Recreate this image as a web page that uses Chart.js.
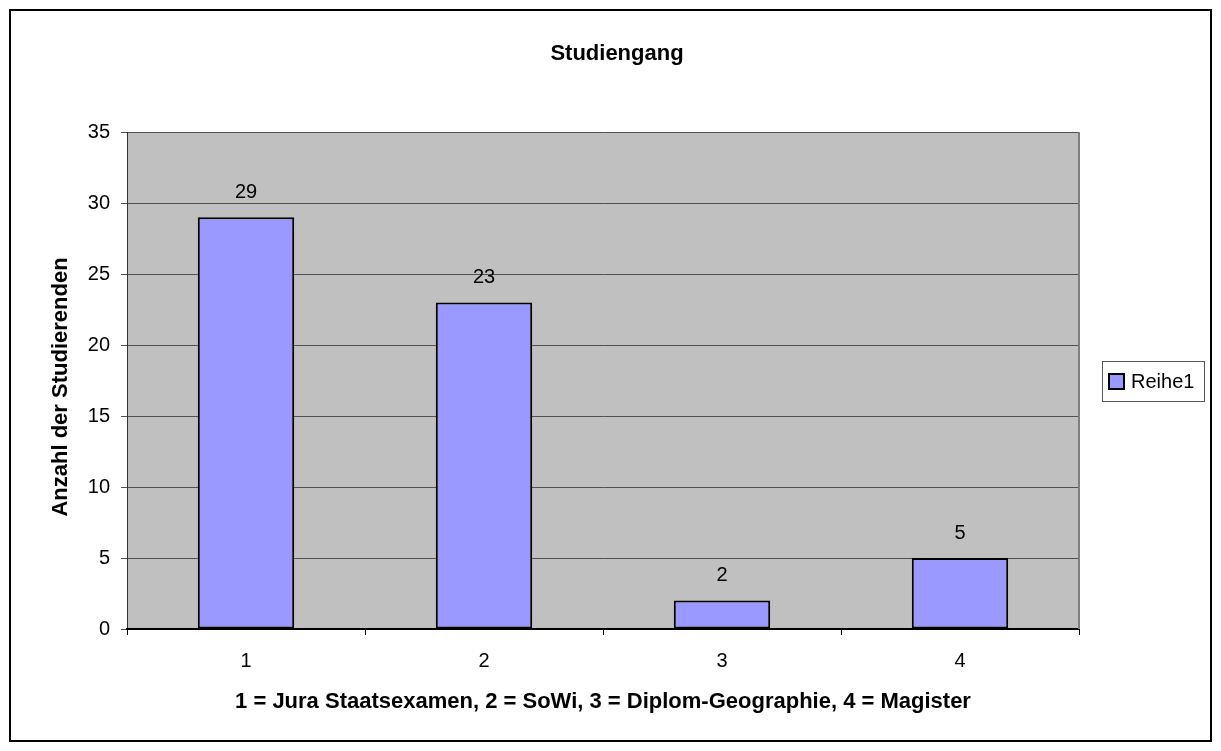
<!DOCTYPE html>
<html><head><meta charset="utf-8">
<script src="https://cdn.jsdelivr.net/npm/chart.js@4.4.1/dist/chart.umd.min.js"></script>
<style>html,body{margin:0;padding:0;background:#fff;} #wrap{width:1221px;height:751px;position:relative;}</style>
</head><body><div id="wrap"><canvas id="c" width="1221" height="751"></canvas></div>
<script>
const categories = ['1', '2', '3', '4'];
const seriesName = 'Reihe1';
const values = [29, 23, 2, 5];
const yTicks = [0, 5, 10, 15, 20, 25, 30, 35];
const chartTitle = 'Studiengang';
const xTitle = '1 = Jura Staatsexamen, 2 = SoWi, 3 = Diplom-Geographie, 4 = Magister';
const yTitle = 'Anzahl der Studierenden';

const FONT = "'Liberation Sans', Arial, sans-serif";
Chart.defaults.font.family = FONT;
Chart.defaults.color = '#000';

const decor = {
  id: 'decor',
  beforeDraw(chart) {
    const ctx = chart.ctx, a = chart.chartArea;
    ctx.save();
    ctx.fillStyle = '#fff';
    ctx.fillRect(0, 0, chart.width, chart.height);
    ctx.fillStyle = '#C0C0C0';
    ctx.fillRect(a.left, a.top, a.right - a.left, a.bottom - a.top);
    ctx.restore();
  },
  afterDatasetsDraw(chart) {
    const ctx = chart.ctx;
    ctx.save();
    ctx.font = '20px ' + FONT;
    ctx.fillStyle = '#000';
    ctx.textAlign = 'center';
    ctx.textBaseline = 'middle';
    chart.getDatasetMeta(0).data.forEach((bar, i) => {
      ctx.fillText(String(chart.data.datasets[0].data[i]), bar.x, bar.y - 25);
    });
    ctx.restore();
  },
  afterDraw(chart) {
    const ctx = chart.ctx, a = chart.chartArea;
    ctx.save();
    // plot area right border
    ctx.strokeStyle = '#808080';
    ctx.lineWidth = 2;
    ctx.beginPath();
    ctx.moveTo(a.right, a.top);
    ctx.lineTo(a.right, a.bottom);
    ctx.stroke();
    // outer border
    ctx.strokeStyle = '#000';
    ctx.lineWidth = 2;
    ctx.strokeRect(10, 10, 1201, 731);
    // chart title
    ctx.fillStyle = '#000';
    ctx.font = 'bold 22px ' + FONT;
    ctx.textAlign = 'center';
    ctx.textBaseline = 'middle';
    ctx.fillText(chartTitle, 617, 54);
    // y axis title
    ctx.save();
    ctx.translate(61, 387);
    ctx.rotate(-Math.PI / 2);
    ctx.fillText(yTitle, 0, 0);
    ctx.restore();
    // legend
    ctx.fillStyle = '#fff';
    ctx.fillRect(1102, 361, 102, 40);
    ctx.strokeStyle = '#555';
    ctx.lineWidth = 1;
    ctx.strokeRect(1102.5, 361.5, 102, 40);
    const ds = chart.data.datasets[0];
    ctx.fillStyle = ds.backgroundColor;
    ctx.fillRect(1109, 374, 15, 15);
    ctx.strokeStyle = '#000';
    ctx.lineWidth = 2;
    ctx.strokeRect(1109, 374, 15, 15);
    ctx.fillStyle = '#000';
    ctx.font = '20px ' + FONT;
    ctx.textAlign = 'left';
    ctx.textBaseline = 'middle';
    ctx.fillText(ds.label, 1131, 382);
    ctx.restore();
  }
};

new Chart(document.getElementById('c'), {
  type: 'bar',
  data: {
    labels: categories,
    datasets: [{
      label: seriesName,
      data: values,
      backgroundColor: '#9999FF',
      borderColor: '#000',
      borderWidth: 2,
      borderSkipped: false,
      categoryPercentage: 1,
      barPercentage: 0.405
    }]
  },
  options: {
    responsive: false,
    animation: false,
    devicePixelRatio: 1,
    layout: { padding: { left: 0, right: 142, top: 132, bottom: 22 } },
    plugins: {
      legend: { display: false },
      title: { display: false },
      tooltip: { enabled: false }
    },
    scales: {
      y: {
        min: 0, max: 35,
        afterBuildTicks(s) { s.ticks = yTicks.map(v => ({ value: v })); },
        ticks: { font: { size: 20 }, color: '#000', padding: 11 },
        grid: { color: '#505050', lineWidth: 1, tickLength: 6, drawTicks: true },
        border: { color: '#333', width: 1 },
        title: { display: false },
        afterFit(s) { s.width = 127; }
      },
      x: {
        grid: { offset: true, drawOnChartArea: false, drawTicks: true, tickLength: 6, color: '#000' },
        border: { color: '#000', width: 2 },
        ticks: { font: { size: 20 }, color: '#000', padding: 14 },
        title: {
          display: true, text: xTitle, color: '#000',
          font: { size: 22, weight: 'bold' },
          padding: { top: 0, bottom: 13.8 }
        },
        afterFit(s) { s.height = 100; }
      }
    }
  },
  plugins: [decor]
});
</script>
</body></html>
